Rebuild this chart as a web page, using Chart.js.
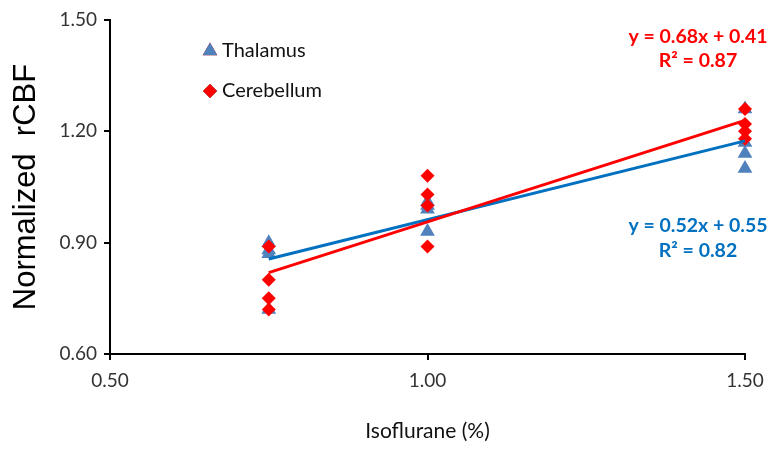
<!DOCTYPE html>
<html>
<head>
<meta charset="utf-8">
<script src="https://cdn.jsdelivr.net/npm/chart.js@4.4.1/dist/chart.umd.min.js"></script>
<style>
  html, body { margin: 0; padding: 0; background: #fff; }
  #wrap { width: 773px; height: 450px; }
</style>
</head>
<body>
<div id="wrap"><canvas id="chart" width="773" height="450"></canvas></div>
<script>
'use strict';

// isoflurane doses (%)
const doses = [0.75, 1.00, 1.50];

// normalized rCBF per dose, one row per dose
const thalamus = [
    [0.90, 0.88, 0.87, 0.72],
    [1.01, 1.00, 0.99, 0.93],
    [1.26, 1.17, 1.14, 1.10]
];
const cerebellum = [
    [0.89, 0.80, 0.75, 0.72],
    [1.08, 1.03, 1.00, 0.89],
    [1.26, 1.22, 1.20, 1.18]
];

const xTicks = [0.50, 1.00, 1.50];
const yTicks = [0.60, 0.90, 1.20, 1.50];

const seriesNames = ['Thalamus', 'Cerebellum'];
const thalamusFit = ['y = 0.52x + 0.55', 'R\u00B2 = 0.82'];
const cerebellumFit = ['y = 0.68x + 0.41', 'R\u00B2 = 0.87'];

const BLUE_PT = '#4F81BD';
const BLUE_LINE = '#0070C0';
const RED = '#FF0000';
const FONT = 'Lato, "Open Sans", sans-serif';

function toPoints(rows) {
    const pts = [];
    rows.forEach((vals, i) => vals.forEach(v => pts.push({ x: doses[i], y: v })));
    return pts;
}

// least squares trendline across the dose range
function trend(pts) {
    const n = pts.length;
    const mx = pts.reduce((s, p) => s + p.x, 0) / n;
    const my = pts.reduce((s, p) => s + p.y, 0) / n;
    let sxy = 0, sxx = 0;
    pts.forEach(p => { sxy += (p.x - mx) * (p.y - my); sxx += (p.x - mx) ** 2; });
    const b = sxy / sxx, a = my - b * mx;
    const x0 = doses[0], x1 = doses[doses.length - 1];
    return [{ x: x0, y: a + b * x0 }, { x: x1, y: a + b * x1 }];
}

const thPts = toPoints(thalamus);
const cePts = toPoints(cerebellum);

// legend + equations drawn inside the plot
const annotations = {
    id: 'annotations',
    afterDatasetsDraw(chart) {
        const ctx = chart.ctx;
        ctx.save();
        // legend, in series order
        seriesNames.forEach((name, i) => {
            const d = chart.data.datasets.find(ds => ds.label === name);
            const y = 51 + i * 40;
            ctx.beginPath();
            Chart.helpers.drawPoint(ctx, {
                pointStyle: d.pointStyle, radius: d.pointRadius, borderWidth: 0
            }, 210, y);
            ctx.fillStyle = d.backgroundColor;
            ctx.fill();
            ctx.fillStyle = '#111';
            ctx.font = '20px ' + FONT;
            ctx.textAlign = 'left';
            ctx.textBaseline = 'middle';
            ctx.fillText(name, 222, y);
        });
        // trendline equations
        ctx.font = 'bold 19.5px ' + FONT;
        ctx.textAlign = 'center';
        ctx.textBaseline = 'middle';
        ctx.fillStyle = RED;
        ctx.fillText(cerebellumFit[0], 698, 37);
        ctx.fillText(cerebellumFit[1], 698, 61);
        ctx.fillStyle = BLUE_LINE;
        ctx.fillText(thalamusFit[0], 698, 226);
        ctx.fillText(thalamusFit[1], 698, 251);
        ctx.restore();
    }
};

new Chart(document.getElementById('chart'), {
    type: 'scatter',
    data: {
        datasets: [
            {
                label: 'Cerebellum fit',
                data: trend(cePts),
                showLine: true,
                borderColor: RED,
                borderWidth: 3,
                pointRadius: 0,
                clip: false,
                order: 0
            },
            {
                label: 'Thalamus fit',
                data: trend(thPts),
                showLine: true,
                borderColor: BLUE_LINE,
                borderWidth: 3,
                pointRadius: 0,
                clip: false,
                order: 1
            },
            {
                label: seriesNames[1],
                data: cePts,
                pointStyle: 'rectRot',
                pointRadius: 7,
                backgroundColor: RED,
                borderWidth: 0,
                clip: false,
                order: 2
            },
            {
                label: seriesNames[0],
                data: thPts,
                pointStyle: 'triangle',
                pointRadius: 8.5,
                backgroundColor: BLUE_PT,
                borderWidth: 0,
                clip: false,
                order: 3
            }
        ]
    },
    options: {
        responsive: false,
        animation: false,
        layout: { padding: { top: 20, right: 28, bottom: 6, left: 0 } },
        scales: {
            x: {
                type: 'linear',
                min: xTicks[0],
                max: xTicks[xTicks.length - 1],
                afterBuildTicks: s => { s.ticks = xTicks.map(v => ({ value: v })); },
                afterFit: s => { s.height = 90; },
                ticks: {
                    padding: 9,
                    color: '#333',
                    font: { family: FONT, size: 19 },
                    callback: v => v.toFixed(2)
                },
                grid: { drawOnChartArea: false, drawTicks: true, tickLength: 6, color: '#000', lineWidth: 2 },
                border: { color: '#000', width: 2 },
                title: {
                    display: true,
                    text: 'Isoflurane (%)',
                    color: '#111',
                    padding: 0,
                    font: { family: FONT, size: 21 }
                }
            },
            y: {
                type: 'linear',
                min: yTicks[0],
                max: yTicks[yTicks.length - 1],
                afterBuildTicks: s => { s.ticks = yTicks.map(v => ({ value: v })); },
                afterFit: s => { s.width = 110; },
                ticks: {
                    padding: 7,
                    color: '#333',
                    font: { family: FONT, size: 19 },
                    callback: v => v.toFixed(2)
                },
                grid: { drawOnChartArea: false, drawTicks: true, tickLength: 6, color: '#000', lineWidth: 2 },
                border: { color: '#000', width: 2 },
                title: {
                    display: true,
                    text: 'Normalized  rCBF',
                    color: '#000',
                    padding: { top: 8 },
                    font: { family: '"Liberation Sans", Arial, sans-serif', size: 31 }
                }
            }
        },
        plugins: {
            legend: { display: false },
            tooltip: { enabled: false }
        }
    },
    plugins: [annotations]
});
</script>
</body>
</html>
